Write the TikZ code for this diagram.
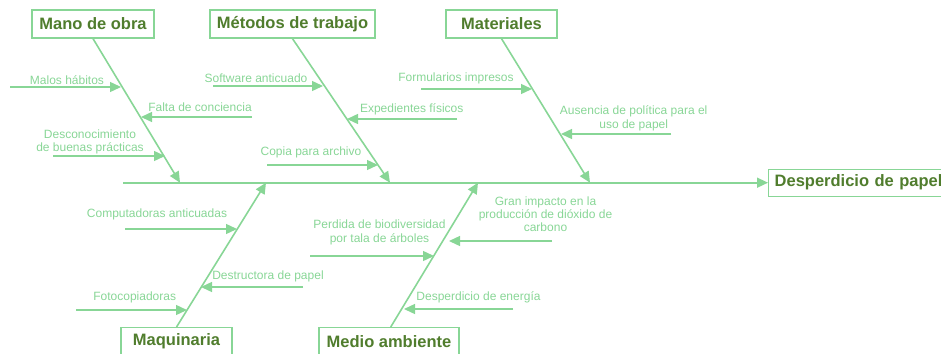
\documentclass[tikz,border=0pt]{standalone}
\usepackage{fontspec}
\setmainfont{Liberation Sans}
\usepackage{xcolor}
\definecolor{bone}{RGB}{136,214,150}
\definecolor{heading}{RGB}{80,125,45}
\usepackage{tikz}
\usetikzlibrary{arrows.meta, positioning, calc}

\begin{document}
\begin{tikzpicture}[x=1pt, y=-1pt,
        cat/.style={rectangle, draw=bone, line width=1.3pt, fill=white, text=heading, font=\fontsize{16.5}{18}\selectfont\bfseries, minimum height=28pt, inner xsep=6pt},
        cause/.style={text=bone, font=\fontsize{12}{13.4}\selectfont, align=center, inner sep=0pt},
        bonearrow/.style={draw=bone, line width=1.6pt, -{Triangle[length=11pt, width=10pt]}},
        subarrow/.style={draw=bone, line width=1.4pt, -{Triangle[length=11pt, width=10pt]}}
    ]
        \useasboundingbox (0,0) rectangle (941,353);

        % categories and effect
        \node[cat, minimum width=122pt] (mano) at (93, 24) {Mano de obra};
        \node[cat, minimum width=165pt] (metodos) at (292.5, 24) {Métodos de trabajo};
        \node[cat, minimum width=111pt] (materiales) at (501.5, 24) {Materiales};
        \node[cat, minimum width=111pt] (maquinaria) at (176.5, 341.7) {Maquinaria};
        \node[cat, minimum width=140pt] (medio) at (389, 341.7) {Medio ambiente};
        \node[cat, anchor=west, minimum height=27pt, minimum width=185pt, align=left, text width=173pt] (efecto) at (768, 182.7) {Desperdicio de papel};

        % spine and bones
        \coordinate (spine) at (123, 182.7);
        \coordinate (manoEnd) at (180, 182.7);
        \coordinate (metodosEnd) at (390, 182.7);
        \coordinate (materialesEnd) at (590, 182.7);
        \coordinate (maquinariaEnd) at (266, 182.7);
        \coordinate (medioEnd) at (478, 182.7);

        \draw[bonearrow] (spine) -- (efecto.west);
        \draw[bonearrow] (mano.south) -- (manoEnd);
        \draw[bonearrow] (metodos.south) -- (metodosEnd);
        \draw[bonearrow] (materiales.south) -- (materialesEnd);
        \draw[bonearrow] (maquinaria.north) -- (maquinariaEnd);
        \draw[bonearrow] ($(medio.north)+(1.7,0)$) -- (medioEnd);

        % Mano de obra
        \node[cause] (habitos) at (67, 80) {Malos hábitos};
        \node[cause] (conciencia) at (200, 107.5) {Falta de conciencia};
        \node[cause] (desconoc) at (90, 141.7) {Desconocimiento\\de buenas prácticas};
        \coordinate (habitosA) at (10, 87);   \coordinate (habitosB) at (121, 87);
        \coordinate (concienciaA) at (252, 117); \coordinate (concienciaB) at (141, 117);
        \coordinate (desconocA) at (53, 156); \coordinate (desconocB) at (165, 156);
        \draw[subarrow] (habitosA) -- (habitosB);
        \draw[subarrow] (concienciaA) -- (concienciaB);
        \draw[subarrow] (desconocA) -- (desconocB);

        % Metodos de trabajo
        \node[cause] (software) at (256, 78.5) {Software anticuado};
        \node[cause] (expedientes) at (411.7, 109.3) {Expedientes físicos};
        \node[cause] (copia) at (311, 152.3) {Copia para archivo};
        \coordinate (softwareA) at (213, 86); \coordinate (softwareB) at (323, 86);
        \coordinate (expedientesA) at (457, 119); \coordinate (expedientesB) at (347, 119);
        \coordinate (copiaA) at (267, 165); \coordinate (copiaB) at (378, 165);
        \draw[subarrow] (softwareA) -- (softwareB);
        \draw[subarrow] (expedientesA) -- (expedientesB);
        \draw[subarrow] (copiaA) -- (copiaB);

        % Materiales
        \node[cause] (formularios) at (456, 78.3) {Formularios impresos};
        \node[cause] (politica) at (633.7, 118.3) {Ausencia de política para el\\uso de papel};
        \coordinate (formulariosA) at (421, 89); \coordinate (formulariosB) at (532, 89);
        \coordinate (politicaA) at (671, 134); \coordinate (politicaB) at (561, 134);
        \draw[subarrow] (formulariosA) -- (formulariosB);
        \draw[subarrow] (politicaA) -- (politicaB);

        % Maquinaria
        \node[cause] (computadoras) at (157, 214.3) {Computadoras anticuadas};
        \node[cause] (destructora) at (268, 276.7) {Destructora de papel};
        \node[cause] (fotocop) at (134.7, 297.3) {Fotocopiadoras};
        \coordinate (computadorasA) at (125, 229); \coordinate (computadorasB) at (237, 229);
        \coordinate (destructoraA) at (303, 287); \coordinate (destructoraB) at (201, 287);
        \coordinate (fotocopA) at (76, 310); \coordinate (fotocopB) at (187, 310);
        \draw[subarrow] (computadorasA) -- (computadorasB);
        \draw[subarrow] (destructoraA) -- (destructoraB);
        \draw[subarrow] (fotocopA) -- (fotocopB);

        % Medio ambiente
        \node[cause] (biodiv) at (379.5, 232.2) {Perdida de biodiversidad\\por tala de árboles};
        \node[cause] (impacto) at (545.5, 214.3) {Gran impacto en la\\producción de dióxido de\\carbono};
        \node[cause] (energia) at (478.5, 297.3) {Desperdicio de energía};
        \coordinate (biodivA) at (310, 256); \coordinate (biodivB) at (434, 256);
        \coordinate (impactoA) at (552, 241); \coordinate (impactoB) at (449, 241);
        \coordinate (energiaA) at (513, 309); \coordinate (energiaB) at (404, 309);
        \draw[subarrow] (biodivA) -- (biodivB);
        \draw[subarrow] (impactoA) -- (impactoB);
        \draw[subarrow] (energiaA) -- (energiaB);
    \end{tikzpicture}
\end{document}
